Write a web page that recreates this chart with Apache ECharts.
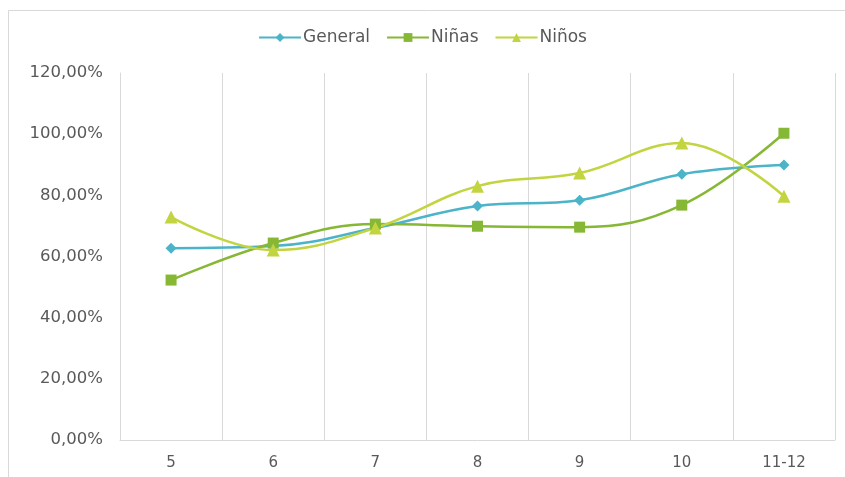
<!DOCTYPE html>
<html>
<head>
<meta charset="utf-8">
<script src="https://cdn.jsdelivr.net/npm/echarts@6/dist/echarts.min.js"></script>
<style>
html,body{margin:0;padding:0;background:#fff;}
#c{width:845px;height:477px;}
</style>
</head>
<body>
<div id="c"></div>
<script>
const categories = ['5', '6', '7', '8', '9', '10', '11-12'];
const general = [0.627, 0.634, 0.693, 0.765, 0.784, 0.869, 0.899];
const ninas   = [0.523, 0.644, 0.706, 0.699, 0.696, 0.768, 1.003];
const ninos   = [0.729, 0.621, 0.693, 0.830, 0.873, 0.971, 0.797];
const yTicks = { min: 0, max: 1.2, interval: 0.2 };

const chart = echarts.init(document.getElementById('c'));
const font = 'DejaVu Sans, Verdana, sans-serif';
function mk(name, data, color, symbol, size) {
  return {
    name, type: 'line', data, smooth: 0.4, symbol, symbolSize: size,
    showSymbol: true,
    lineStyle: { color, width: 2.5 },
    itemStyle: { color },
    emphasis: { disabled: true }
  };
}
chart.setOption({
  animation: false,
  backgroundColor: '#fff',
  graphic: [{
    type: 'rect', shape: { x: 8.5, y: 10.5, width: 850, height: 480 },
    style: { fill: 'none', stroke: '#d9d9d9', lineWidth: 1 }, silent: true, z: -1
  }],
  legend: {
    top: 24, left: 'center', itemWidth: 42, itemHeight: 11, itemGap: 16,
    textStyle: { fontFamily: font, fontSize: 17, color: '#595959', padding: [0, 0, 0, -3] },
    data: ['General', 'Niñas', 'Niños']
  },
  grid: { left: 120, right: 10, top: 73, bottom: 37, containLabel: false },
  xAxis: {
    type: 'category', data: categories, boundaryGap: true,
    axisLine: { lineStyle: { color: '#d9d9d9', width: 1 } },
    axisTick: { show: false },
    splitLine: { show: true, lineStyle: { color: '#d9d9d9', width: 1 } },
    axisLabel: { fontFamily: font, fontSize: 15, color: '#595959', margin: 16 }
  },
  yAxis: {
    type: 'value', min: yTicks.min, max: yTicks.max, interval: yTicks.interval,
    axisLine: { show: true, lineStyle: { color: '#d9d9d9', width: 1 } },
    axisTick: { show: false },
    splitLine: { show: false },
    axisLabel: {
      fontFamily: font, fontSize: 16.5, color: '#595959', margin: 17,
      formatter: v => (v * 100).toFixed(2).replace('.', ',') + '%'
    }
  },
  series: [
    mk('General', general, '#4BB4C9', 'diamond', 11),
    mk('Niñas', ninas, '#86B735', 'rect', 11),
    mk('Niños', ninos, '#C3D441', 'triangle', 13)
  ]
});
</script>
</body>
</html>
